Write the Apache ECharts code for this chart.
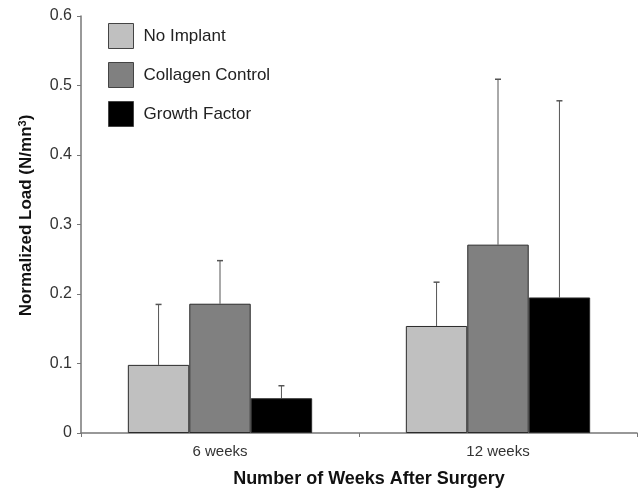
<!DOCTYPE html>
<html>
<head>
<meta charset="utf-8">
<script src="https://cdn.jsdelivr.net/npm/echarts@6/dist/echarts.min.js"></script>
<style>html,body{margin:0;padding:0;background:#fff;}#c{width:638px;height:490px;}</style>
</head>
<body>
<div id="c"></div>
<script>
var categories = ['6 weeks', '12 weeks'];
var seriesNames = ['No Implant', 'Collagen Control', 'Growth Factor'];
var noImplant = [0.098, 0.154];
var noImplantErr = [0.087, 0.063];
var collagenControl = [0.186, 0.271];
var collagenControlErr = [0.062, 0.238];
var growthFactor = [0.050, 0.195];
var growthFactorErr = [0.018, 0.283];
var yTicks = [0, 0.1, 0.2, 0.3, 0.4, 0.5, 0.6];

var colors = ['#c0c0c0', '#808080', '#000000'];
var values = [noImplant, collagenControl, growthFactor];
var errs = [noImplantErr, collagenControlErr, growthFactorErr];
var catGap = 0.337;

var chart = echarts.init(document.getElementById('c'));
var series = [];
values.forEach(function (vals, i) {
  series.push({
    name: seriesNames[i], type: 'bar', data: vals, barGap: '0%', barCategoryGap: (catGap * 100) + '%',
    itemStyle: { color: colors[i], borderColor: '#2a2a2a', borderWidth: 1 }, z: 2
  });
});
values.forEach(function (vals, i) {
  var data = vals.map(function (v, j) { return [j, v, v + errs[i][j]]; });
  series.push({
    type: 'custom', z: 1, silent: true,
    data: data,
    renderItem: function (params, api) {
      var cat = api.value(0);
      var low = api.coord([cat, api.value(1)]);
      var high = api.coord([cat, api.value(2)]);
      var catW = api.size([1, 0])[0];
      var bw = catW * (1 - catGap) / 3;
      var x = low[0] + (i - 1) * bw;
      var cap = 3;
      return {
        type: 'group',
        children: [
          { type: 'line', shape: { x1: x, y1: low[1], x2: x, y2: high[1] }, style: { stroke: '#555', lineWidth: 1 } },
          { type: 'line', shape: { x1: x - cap, y1: high[1], x2: x + cap, y2: high[1] }, style: { stroke: '#555', lineWidth: 1.5 } }
        ]
      };
    }
  });
});

chart.setOption({
  animation: false,
  backgroundColor: '#fff',
  textStyle: { fontFamily: 'Liberation Sans, Arial, sans-serif' },
  grid: { left: 81, right: 1, top: 16, bottom: 57, containLabel: false, outerBoundsMode: 'none' },
  legend: {
    orient: 'vertical', left: 103, top: 18,
    itemWidth: 25, itemHeight: 25, itemGap: 13,
    icon: 'rect',
    data: seriesNames,
    itemStyle: { borderColor: '#444', borderWidth: 1 },
    textStyle: { fontSize: 17, color: '#222', padding: [0, 0, 0, 5], fontFamily: 'Liberation Sans, Arial, sans-serif' }
  },
  xAxis: {
    type: 'category', data: categories,
    name: 'Number of Weeks After Surgery', nameLocation: 'middle', nameGap: 37,
    nameTextStyle: { fontSize: 18, fontWeight: 'bold', color: '#111', padding: [0, 0, 0, 20] },
    axisLine: { lineStyle: { color: '#777', width: 1.5 } },
    axisTick: { show: true, length: 4, lineStyle: { color: '#777' } },
    axisLabel: { fontSize: 15, color: '#333', margin: 11 }
  },
  yAxis: {
    type: 'value', min: 0, max: 0.6, interval: 0.1,
    name: '{n|Normalized Load (N/mn}{s|3}{n|)}', nameLocation: 'middle', nameGap: 45,
    nameTextStyle: { fontSize: 17, fontWeight: 'bold', color: '#111', padding: [0, 0, 0, 18],
      rich: { n: { fontSize: 17, fontWeight: 'bold', color: '#111' },
              s: { fontSize: 11, fontWeight: 'bold', color: '#111', verticalAlign: 'top', padding: [0, 0, 8, 0] } } },
    axisLine: { show: true, lineStyle: { color: '#777', width: 1.5 } },
    axisTick: { show: true, length: 4, lineStyle: { color: '#777' } },
    splitLine: { show: false },
    axisLabel: { fontSize: 16, color: '#333', margin: 9,
      formatter: function (v) { var t = yTicks.filter(function (k) { return Math.abs(k - v) < 1e-9; }); return t.length ? String(t[0]) : ''; } }
  },
  series: series
});
</script>
</body>
</html>
